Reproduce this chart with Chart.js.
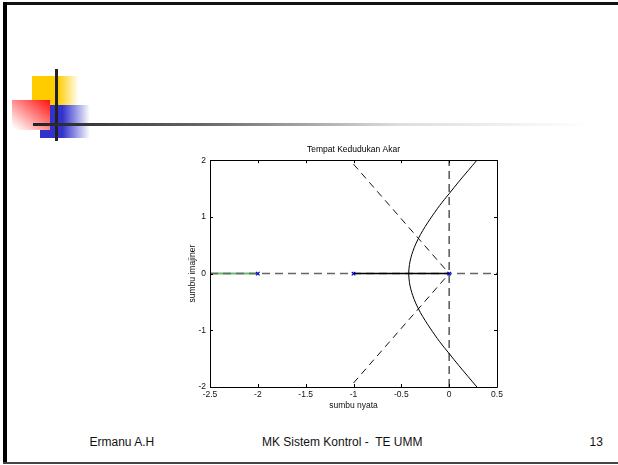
<!DOCTYPE html>
<html>
<head>
<meta charset="utf-8">
<script src="https://cdn.jsdelivr.net/npm/chart.js@4"></script>
<style>
  body { margin: 0; background: #fff; }
  #slide { position: relative; width: 618px; height: 465px; overflow: hidden; background: #fff; }
  .box { position: absolute; }
  .foot { position: absolute; top: 435px; font-family: "Liberation Sans", Arial, sans-serif; font-size: 12px; color: #111; white-space: pre; }
  #chart { position: absolute; left: 170px; top: 140px; }
</style>
</head>
<body>
<div id="slide">
  <!-- frame -->
  <div class="box" style="left:3px; top:2px; width:615px; height:3px; background:#111;"></div>
  <div class="box" style="left:3px; top:2px; width:4px; height:462px; background:#000;"></div>
  <div class="box" style="left:3px; top:462px; width:615px; height:2px; background:#444;"></div>

  <!-- title decoration -->
  <div class="box" style="left:32px; top:76px; width:47px; height:30px; background:linear-gradient(to right, #ffcc00 55%, #ffffff);"></div>
  <div class="box" style="left:40px; top:105px; width:50px; height:33px; background:linear-gradient(to right, #3333cc 45%, #ffffff);"></div>
  <div class="box" style="left:12px; top:100px; width:38px; height:30px; background:linear-gradient(to bottom left, #ff1010, #ffffff 95%);"></div>
  <div class="box" style="left:55px; top:69px; width:3px; height:72px; background:#222;"></div>
  <div class="box" style="left:33px; top:123px; width:560px; height:3px; background:linear-gradient(to right, #222 0%, #666 30%, #ddd 65%, #fff 100%);"></div>

  <canvas id="chart" width="367" height="280"></canvas>

  <div class="foot" id="footLeft"></div>
  <div class="foot" id="footMid"></div>
  <div class="foot" id="footRight"></div>
</div>

<script>
"use strict";

const chartTitle = "Tempat Kedudukan Akar";
const xTitle = "sumbu nyata";
const yTitle = "sumbu imajiner";

const xTickValues = [-2.5, -2, -1.5, -1, -0.5, 0, 0.5];
const xTickLabels = ["-2.5", "-2", "-1.5", "-1", "-0.5", "0", "0.5"];
const yTickValues = [-2, -1, 0, 1, 2];
const yTickLabels = ["-2", "-1", "0", "1", "2"];

// complex branches of the locus (bottom to top)
const locusRe = [0.29, 0.2, 0.1, 0, -0.1, -0.2, -0.25, -0.3, -0.35, -0.38, -0.4, -0.415, -0.423,
  -0.415, -0.4, -0.38, -0.35, -0.3, -0.25, -0.2, -0.1, 0, 0.1, 0.2, 0.29];
const locusIm = [-2, -1.82, -1.62, -1.41, -1.2, -0.96, -0.83, -0.69, -0.52, -0.39, -0.28, -0.16, 0,
  0.16, 0.28, 0.39, 0.52, 0.69, 0.83, 0.96, 1.2, 1.41, 1.62, 1.82, 2];

// real axis parts of the locus
const realSegRe = [-1, 0];
const greenSegRe = [-2.5, -2];

// open loop poles
const polesRe = [-2, -1, 0];

// dashed guide lines
const diagRe = [-1, 0];
const diagIm = [1.93, 0];

const footLeft = "Ermanu A.H";
const footMid = "MK Sistem Kontrol -  TE UMM";
const footRight = "13";

const fontFamily = "'Liberation Sans', Arial, sans-serif";

function toPoints(xs, ys) {
  let pts = [];
  for (let i = 0; i < xs.length; i++) {
    pts.push({ x: xs[i], y: ys[i] });
  }
  return pts;
}

// box around the plot with MATLAB style inside ticks
const boxPlugin = {
  id: "matlabBox",
  afterDraw(chart) {
    const ctx = chart.ctx;
    const area = chart.chartArea;
    const xs = chart.scales.x;
    const ys = chart.scales.y;
    const len = 3;
    ctx.save();
    ctx.strokeStyle = "#000";
    ctx.lineWidth = 1;
    ctx.beginPath();
    ctx.rect(Math.round(area.left) + 0.5, Math.round(area.top) + 0.5,
      Math.round(area.right - area.left), Math.round(area.bottom - area.top));
    for (let i = 0; i < xTickValues.length; i++) {
      const px = Math.round(xs.getPixelForValue(xTickValues[i])) + 0.5;
      ctx.moveTo(px, area.bottom);
      ctx.lineTo(px, area.bottom - len);
      ctx.moveTo(px, area.top);
      ctx.lineTo(px, area.top + len);
    }
    for (let i = 0; i < yTickValues.length; i++) {
      const py = Math.round(ys.getPixelForValue(yTickValues[i])) + 0.5;
      ctx.moveTo(area.left, py);
      ctx.lineTo(area.left + len, py);
      ctx.moveTo(area.right, py);
      ctx.lineTo(area.right - len, py);
    }
    ctx.stroke();
    ctx.restore();
  }
};

const data = {
  datasets: [
    {
      label: "poles",
      data: toPoints(polesRe, [0, 0, 0]),
      showLine: false,
      pointStyle: "crossRot",
      pointRadius: 2.5,
      pointBorderWidth: 1.2,
      borderColor: "#0000cc",
      backgroundColor: "#0000cc",
    },
    {
      label: "real segment",
      data: toPoints(realSegRe, [0, 0]),
      showLine: true,
      pointRadius: 0,
      borderColor: "#000",
      borderWidth: 1.5,
    },
    {
      label: "locus",
      data: toPoints(locusRe, locusIm),
      showLine: true,
      tension: 0.3,
      pointRadius: 0,
      borderColor: "#000",
      borderWidth: 1,
    },
    {
      label: "diag up",
      data: toPoints(diagRe, diagIm),
      showLine: true,
      pointRadius: 0,
      borderColor: "#111",
      borderWidth: 1,
      borderDash: [7, 5],
    },
    {
      label: "diag down",
      data: toPoints(diagRe, diagIm.map(v => -v)),
      showLine: true,
      pointRadius: 0,
      borderColor: "#111",
      borderWidth: 1,
      borderDash: [7, 5],
    },
    {
      label: "imag axis",
      data: toPoints([0, 0], [-2, 2]),
      showLine: true,
      pointRadius: 0,
      borderColor: "#555",
      borderWidth: 1.5,
      borderDash: [8, 5],
    },
    {
      label: "real axis",
      data: toPoints([-2.5, 0.5], [0, 0]),
      showLine: true,
      pointRadius: 0,
      borderColor: "#666",
      borderWidth: 1.5,
      borderDash: [8, 5],
    },
    {
      label: "green segment",
      data: toPoints(greenSegRe, [0, 0]),
      showLine: true,
      pointRadius: 0,
      borderColor: "#6cc06c",
      borderWidth: 2,
    },
  ],
};

const config = {
  type: "scatter",
  data: data,
  plugins: [boxPlugin],
  options: {
    responsive: false,
    animation: false,
    events: [],
    layout: { padding: 0 },
    plugins: {
      legend: { display: false },
      tooltip: { enabled: false },
      title: {
        display: true,
        text: chartTitle,
        color: "#000",
        font: { family: fontFamily, size: 8.5, weight: "normal" },
        padding: { top: 5, bottom: 5 },
      },
    },
    scales: {
      x: {
        type: "linear",
        min: -2.5,
        max: 0.5,
        grid: { display: false, drawTicks: false },
        border: { display: false },
        afterBuildTicks(scale) {
          scale.ticks = xTickValues.map(v => ({ value: v }));
        },
        afterFit(scale) {
          scale.height = 33;
        },
        ticks: {
          padding: 3,
          color: "#111",
          maxRotation: 0,
          font: { family: fontFamily, size: 8.5 },
          callback: function (value) {
            return xTickLabels[xTickValues.indexOf(value)];
          },
        },
        title: {
          display: true,
          text: xTitle,
          color: "#111",
          font: { family: fontFamily, size: 8.5 },
          padding: { top: 0, bottom: 9 },
        },
      },
      y: {
        type: "linear",
        min: -2,
        max: 2,
        grid: { display: false, drawTicks: false },
        border: { display: false },
        afterBuildTicks(scale) {
          scale.ticks = yTickValues.map(v => ({ value: v }));
        },
        afterFit(scale) {
          scale.width = 40;
        },
        ticks: {
          padding: 4,
          color: "#111",
          font: { family: fontFamily, size: 8.5 },
          callback: function (value) {
            return yTickLabels[yTickValues.indexOf(value)];
          },
        },
        title: {
          display: true,
          text: yTitle,
          color: "#111",
          font: { family: fontFamily, size: 8.5 },
          padding: { top: 18, bottom: 0 },
        },
      },
      // empty axis on the right so the title stays centred over the plot
      yRight: {
        type: "linear",
        position: "right",
        min: -2,
        max: 2,
        grid: { display: false, drawTicks: false },
        border: { display: false },
        ticks: { display: false },
        afterFit(scale) {
          scale.width = 40;
        },
      },
    },
  },
};

const canvasElem = document.getElementById("chart");
const newChart = new Chart(canvasElem, config);

// footer texts, centred on their spots
function placeFoot(id, text, centerX) {
  const el = document.getElementById(id);
  el.textContent = text;
  el.style.left = (centerX - el.offsetWidth / 2) + "px";
}

placeFoot("footLeft", footLeft, 122);
placeFoot("footMid", footMid, 342);
placeFoot("footRight", footRight, 596);
</script>
</body>
</html>
